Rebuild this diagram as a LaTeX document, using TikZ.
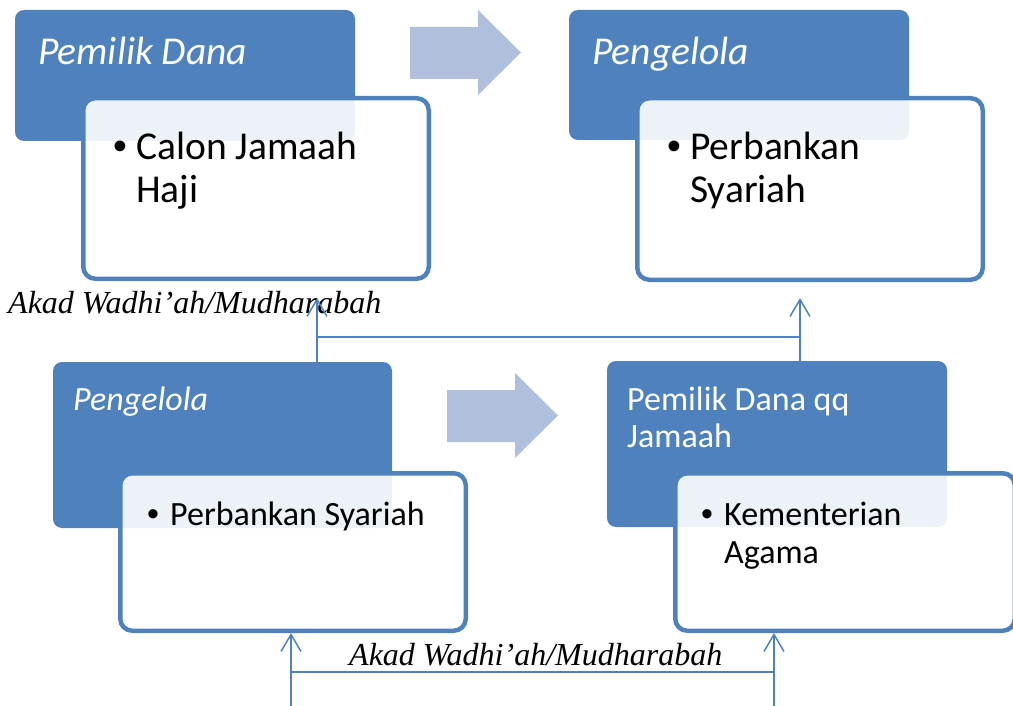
\documentclass[tikz,border=0pt]{standalone}
\usepackage{fontspec}
\setmainfont{Carlito}
\newfontfamily\tnr{Liberation Serif}
\newfontfamily\bulf{Liberation Sans}
\usetikzlibrary{arrows.meta}
\definecolor{accblue}{HTML}{4F81BD}
\definecolor{arrowblue}{HTML}{B0C0DC}
\newcommand{\mybul}{\makebox[23pt][l]{\bulf •}}
\tikzset{
  bluebox/.style={fill=accblue, rounded corners=9pt, inner sep=0pt},
  whitebox/.style={fill=white, fill opacity=0.9, draw=accblue, line width=4.5pt, rounded corners=12pt, inner sep=0pt},
  bigfont/.style={font=\fontsize{39.5}{43}\selectfont, inner sep=0pt, anchor=base west},
  smallfont/.style={font=\fontsize{34}{37}\selectfont, inner sep=0pt, anchor=base west},
  headbig/.style={bigfont, font=\fontsize{39.5}{43}\selectfont\itshape, text=white},
  headsmall/.style={smallfont, text=white},
  lbl/.style={font=\tnr\itshape\fontsize{32}{36}\selectfont, inner sep=0pt, anchor=base west},
  conn/.style={draw=accblue, line width=1.5pt},
  upar/.style={conn, -{Straight Barb[length=17pt,width=20pt]}},
  blockarrow/.style={fill=arrowblue, draw=none}
}
\begin{document}
\begin{tikzpicture}[x=1pt,y=-1pt]
\useasboundingbox (0,0) rectangle (1013,706);

% block arrows
\fill[blockarrow] (410,27) -- (478,27) -- (478,10) -- (521,52.5) -- (478,95) -- (478,79) -- (410,79) -- cycle;
\fill[blockarrow] (447,390) -- (515,390) -- (515,373) -- (558,415.5) -- (515,458) -- (515,442) -- (447,442) -- cycle;

% top left
\node[bluebox, minimum width=340pt, minimum height=131pt] (tlBlue) at (185,75.5) {};
\node[whitebox, minimum width=345.5pt, minimum height=180.5pt] (tlWhite) at (256,188.5) {};
\node[headbig] (tlHead) at (38,65) {Pemilik Dana};
\node[bigfont] (tlB1) at (113,160) {\mybul Calon Jamaah};
\node[bigfont] (tlB2) at (136,203) {Haji};

% top right
\node[bluebox, minimum width=340pt, minimum height=130pt] (trBlue) at (739,75) {};
\node[whitebox, minimum width=345.5pt, minimum height=181.5pt] (trWhite) at (810,189) {};
\node[headbig] (trHead) at (592,65) {Pengelola};
\node[bigfont] (trB1) at (667,160) {\mybul Perbankan};
\node[bigfont] (trB2) at (690,203) {Syariah};

% bottom left
\node[bluebox, minimum width=339pt, minimum height=166pt] (blBlue) at (222.5,445) {};
\node[whitebox, minimum width=345.5pt, minimum height=157.5pt] (blWhite) at (293,552) {};
\node[headsmall, font=\fontsize{34}{37}\selectfont\itshape] (blHead) at (73,410) {Pengelola};
\node[smallfont] (blB1) at (147,525) {\mybul Perbankan Syariah};

% bottom right
\node[bluebox, minimum width=340pt, minimum height=166pt] (brBlue) at (777,444) {};
\node[whitebox, minimum width=339.5pt, minimum height=157.5pt] (brWhite) at (845,552) {};
\node[headsmall] (brHead1) at (627,410) {Pemilik Dana qq};
\node[headsmall] (brHead2) at (627,447) {Jamaah};
\node[smallfont] (brB1) at (701,525) {\mybul Kementerian};
\node[smallfont] (brB2) at (724,563) {Agama};

% labels
\node[lbl] (lab1) at (8,313) {Akad Wadhi’ah/Mudharabah};
\node[lbl] (lab2) at (349,665) {Akad Wadhi’ah/Mudharabah};

% top connector
\coordinate (t1) at (317,298);
\coordinate (t2) at (800,298);
\coordinate (h1) at (317,337);
\coordinate (h2) at (800,337);
\draw[conn] (h1) -- (h2);
\draw[upar] (blBlue.north -| t1) -- (t1);
\draw[upar] (brBlue.north -| t2) -- (t2);

% bottom connector
\coordinate (b1) at (291,706);
\coordinate (b2) at (774,706);
\coordinate (g1) at (291,672);
\coordinate (g2) at (774,672);
\draw[conn] (g1) -- (g2);
\draw[upar] (b1) -- (blWhite.south -| b1);
\draw[upar] (b2) -- (brWhite.south -| b2);
\end{tikzpicture}
\end{document}
